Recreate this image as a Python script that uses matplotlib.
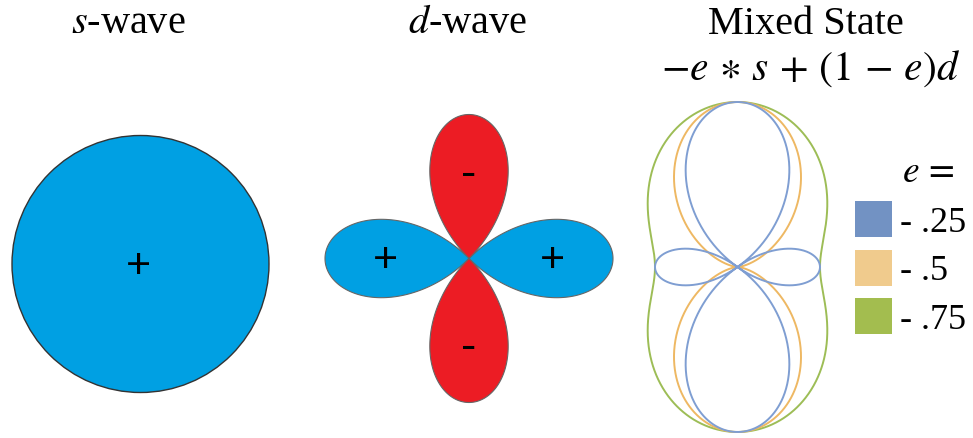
import numpy as np
import matplotlib.pyplot as plt
from matplotlib.patches import Circle, Rectangle

plt.rcParams['font.family'] = ['Liberation Serif', 'DejaVu Serif']
plt.rcParams['mathtext.fontset'] = 'stix'

# mixing weights for the s + d combination
e_values = [0.25, 0.5, 0.75]
e_labels = ['- .25', '- .5', '- .75']
line_colors = ['#7f9ed2', '#eeb863', '#9dbd56']
box_colors = ['#7292c3', '#f0cb8d', '#a3bd4f']

titles = [r'$s$-wave', r'$d$-wave', 'Mixed State']
formula = r'$-e \,\ast\, s \,+\, (1 \,-\, e)d$'

blue = '#00a0e3'
red = '#ec1c24'

fig = plt.figure(figsize=(9.73, 4.39), dpi=100)
ax = fig.add_axes([0, 0, 1, 1])
ax.set_xlim(0, 973)
ax.set_ylim(439, 0)
ax.axis('off')

theta = np.linspace(0, 2 * np.pi, 1441)

# s-wave: isotropic gap
s_cx, s_cy, s_R = 140.5, 265, 128.5
ax.add_patch(Circle((s_cx, s_cy), s_R, fc=blue, ec='#333333', lw=1.0))
ax.text(s_cx - 2, s_cy + 2, '+', ha='center', va='center', fontsize=31,
        family='Liberation Sans')

# d-wave: r = |cos 2θ|, sign gives colour
d_cx, d_cy, d_R = 469, 259.5, 144
for k in range(4):
    c = k * np.pi / 2
    t = np.linspace(c - np.pi / 4, c + np.pi / 4, 200)
    r = np.abs(np.cos(2 * t))
    col = blue if k % 2 == 0 else red
    ax.fill(d_cx + d_R * r * np.cos(t), d_cy - d_R * r * np.sin(t),
            fc=col, ec='#666666', lw=0.8)
for k in range(4):
    c = k * np.pi / 2
    sym = '+' if k % 2 == 0 else '-'
    ax.text(d_cx + 0.58 * d_R * np.cos(c), d_cy - 0.60 * d_R * np.sin(c) + 2, sym,
            ha='center', va='center', fontsize=31 if sym == '+' else 33,
            family='Liberation Sans')

# mixed state: r = |-e + (1-e) cos 2θ|
m_cx, m_cy, m_R = 737.5, 268, 165
for e, col in zip(e_values[::-1], line_colors[::-1]):
    r = np.abs(-e + (1 - e) * np.cos(2 * theta))
    ax.plot(m_cx + m_R * r * np.cos(theta), m_cy - m_R * r * np.sin(theta),
            color=col, lw=1.4)

# titles
ax.text(128, 33, titles[0], ha='center', va='baseline', fontsize=29)
ax.text(468, 33, titles[1], ha='center', va='baseline', fontsize=29)
ax.text(806, 34, titles[2], ha='center', va='baseline', fontsize=29)
ax.text(811, 80, formula, ha='center', va='baseline', fontsize=30)

# legend
ax.text(902, 182, r'$e\,=$', ha='left', va='baseline', fontsize=27)
for i, (lab, col) in enumerate(zip(e_labels, box_colors)):
    y0 = 202 + i * 48.5
    ax.add_patch(Rectangle((855, y0), 37, 36, fc=col, ec='none'))
    ax.text(900, y0 + 30, lab, ha='left', va='baseline', fontsize=26)

fig.savefig('out.png', dpi=100)
